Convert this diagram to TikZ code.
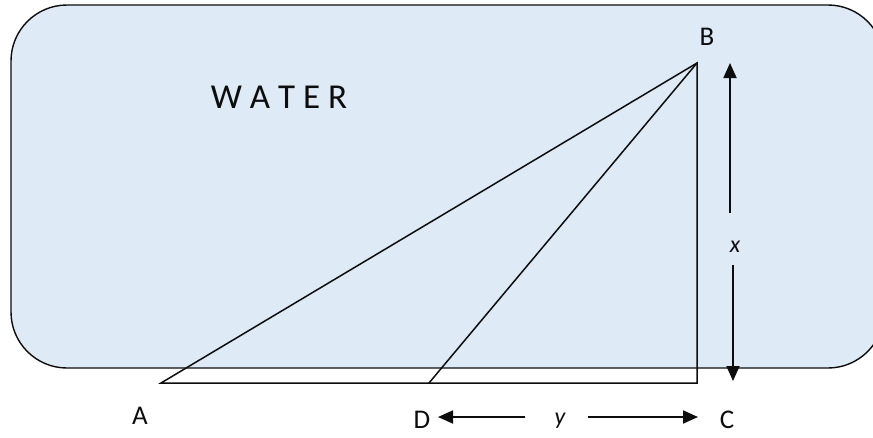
\documentclass[tikz,border=0pt]{standalone}
\usepackage{fontspec}
\setmainfont{Carlito}
\usepackage{tikz}
\usetikzlibrary{arrows.meta}
\definecolor{ink}{HTML}{0D0D0D}
\definecolor{waterblue}{HTML}{DEEAF6}

\begin{document}
\begin{tikzpicture}[x=1pt,y=-1pt,
  pool/.style={draw=ink,line width=1.4pt,fill=waterblue,rounded corners=56pt},
  ln/.style={draw=ink,line width=1.5pt},
  arr/.style={-{Triangle[length=15pt,width=13pt]},draw=ink,fill=ink,line width=1.8pt},
  pt/.style={font=\fontsize{27}{30}\selectfont,text=ink,inner sep=0pt},
  var/.style={font=\fontsize{24}{28}\selectfont\itshape,text=ink,inner sep=0pt}
]
\useasboundingbox (0,0) rectangle (873,437);
\clip (0,0) rectangle (873,437);
\draw[pool] (11,5) rectangle (884,368);
\node[font=\fontsize{35}{40}\selectfont,text=ink] (water) at (279,97) {W A T E R};

\coordinate (A) at (161,383);
\coordinate (B) at (697,63);
\coordinate (C) at (697,383);
\coordinate (D) at (429,383);
\draw[ln] (A) -- (B) -- (C) -- cycle;
\draw[ln] (D) -- (B);

\node[pt] (Alab) at (140,416) {A};
\node[pt] (Blab) at (707,37) {B};
\node[pt] (Clab) at (727,420) {C};
\node[pt] (Dlab) at (422,420) {D};

\node[var] (xlab) at (735,247) {x};
\coordinate (xup) at (730,63);
\coordinate (xdn) at (733,381);
\draw[arr] ([yshift=28pt]xlab.north -| xup) -- (xup);
\draw[arr] ([yshift=-12pt]xlab.south -| xdn) -- (xdn);

\node[var] (ylab) at (560,421) {y};
\coordinate (yl) at (438,417);
\coordinate (yr) at (698,417);
\draw[arr] ([xshift=-29pt]ylab.west |- yl) -- (yl);
\draw[arr] ([xshift=22pt]ylab.east |- yr) -- (yr);
\end{tikzpicture}
\end{document}
